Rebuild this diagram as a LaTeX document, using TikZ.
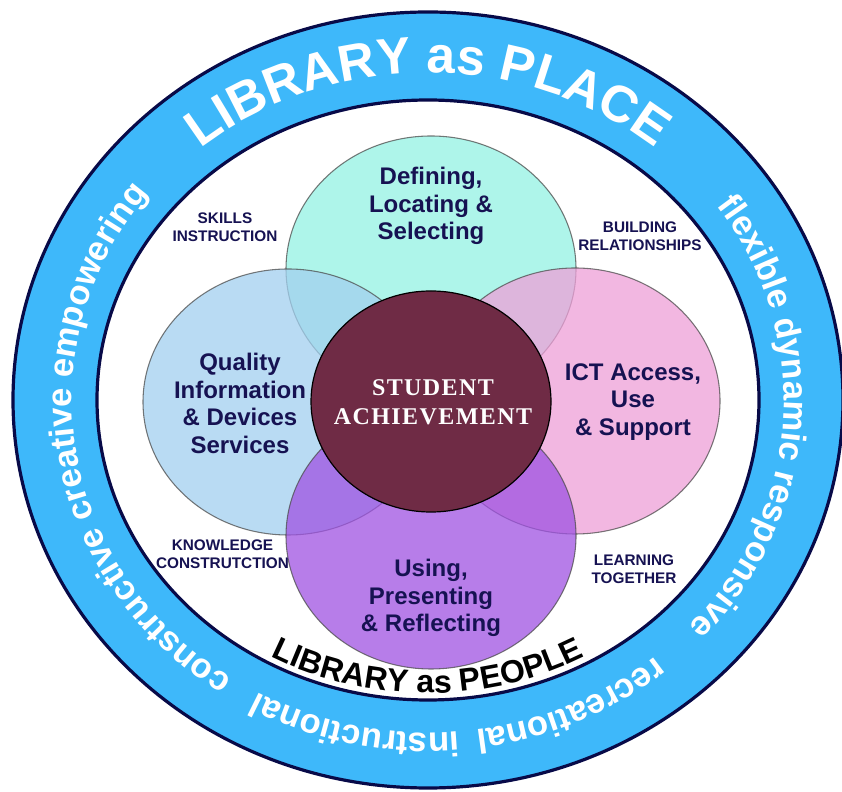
\documentclass[tikz,border=0pt]{standalone}
\usepackage{fontspec}
\setmainfont{Liberation Sans}
\newfontfamily\achievefont[LetterSpace=6]{Liberation Serif}
\usetikzlibrary{shapes.geometric,decorations.text,calc,positioning}
\definecolor{ringblue}{RGB}{62,184,250}
\definecolor{ringline}{RGB}{8,10,72}
\definecolor{inknavy}{RGB}{22,18,82}
\definecolor{definecol}{RGB}{147,242,227}
\definecolor{qualitycol}{RGB}{162,208,239}
\definecolor{ictcol}{RGB}{238,160,216}
\definecolor{usingcol}{RGB}{159,82,226}
\definecolor{achievecol}{RGB}{111,43,69}
\newcommand{\placefont}{\bfseries\fontsize{38.5}{38.5}\selectfont}
\newcommand{\wordfont}{\bfseries\fontsize{26}{26}\selectfont}
\newcommand{\peoplefont}{\bfseries\fontsize{24}{24}\selectfont}
\tikzset{
  venn/.style={ellipse, draw=black!70, line width=0.8pt, opacity=0.75,
    minimum width=217.5pt, minimum height=199.5pt, inner sep=0pt},
  core/.style={ellipse, draw=black, line width=0.9pt, fill=achievecol,
    minimum width=180pt, minimum height=165.75pt, inner sep=0pt},
  phase/.style={align=center, text=inknavy,
    font=\bfseries\fontsize{18}{20.7}\selectfont},
  skill/.style={align=center, text=inknavy,
    font=\bfseries\fontsize{11.5}{13.5}\selectfont},
  rim/.style={draw=ringline, line width=2.4pt},
}
\newcommand{\ringtext}[4]{%
  \path[decorate, decoration={text along path, text align=center, text={#4}}]
    ($(hub)+(#1:#3)$) arc (#1:#2:#3);
}

\begin{document}
\begin{tikzpicture}[x=0.75pt, y=0.75pt]
  \useasboundingbox (0,0) rectangle (842,792);
  \coordinate (hub) at (428,392);

  % the ring
  \path[rim, fill=ringblue] (hub) ellipse [x radius=311.25pt, y radius=291pt];
  \path[rim, fill=white] (hub) ellipse [x radius=248.25pt, y radius=225pt];

  \ringtext{150}{30}{267pt and 245.25pt}{|\placefont\color{white}|LIBRARY as PLACE}
  \ringtext{60}{-67}{267pt and 249.75pt}{|\wordfont\color{white}|flexible dynamic responsive}
  \ringtext{-36}{-96}{267pt and 249.75pt}{|\wordfont\color{white}|recreational}
  \ringtext{-72}{-132}{267pt and 249.75pt}{|\wordfont\color{white}|instructional}
  \ringtext{250}{128}{267pt and 249.75pt}{|\wordfont\color{white}|constructive creative empowering}
  \ringtext{-150}{-30}{243pt and 219.75pt}{|\peoplefont\color{black}|LIBRARY as PEOPLE}

  % four phases and the core
  \node[venn, fill=definecol] (define) at (431,523) {};
  \node[venn, fill=qualitycol] (quality) at (288,390) {};
  \node[venn, fill=ictcol] (ict) at (575,391) {};
  \node[venn, fill=usingcol] (using) at (431,256) {};
  \node[core] (achieve) at (431,390.5) {};

  \node[phase] (definetext) at (431,586) {Defining,\\Locating \&\\Selecting};
  \node[phase] (qualitytext) at (240,388.5) {Quality\\Information\\\& Devices\\Services};
  \node[phase] (icttext) at (633,390) {ICT Access,\\Use\\\& Support};
  \node[phase] (usingtext) at (431,194) {Using,\\Presenting\\\& Reflecting};
  \node[align=center, text=white, font=\achievefont\bfseries\fontsize{18}{21.75}\selectfont]
    (achievetext) at (433,389.5) {STUDENT\\ACHIEVEMENT};

  \node[skill] (skills) at (225,565) {SKILLS\\INSTRUCTION};
  \node[skill] (building) at (640,556) {BUILDING\\RELATIONSHIPS};
  \node[skill] (knowledge) at (222.5,237.5) {KNOWLEDGE\\CONSTRUTCTION};
  \node[skill] (learning) at (634,223) {LEARNING\\TOGETHER};
\end{tikzpicture}
\end{document}
